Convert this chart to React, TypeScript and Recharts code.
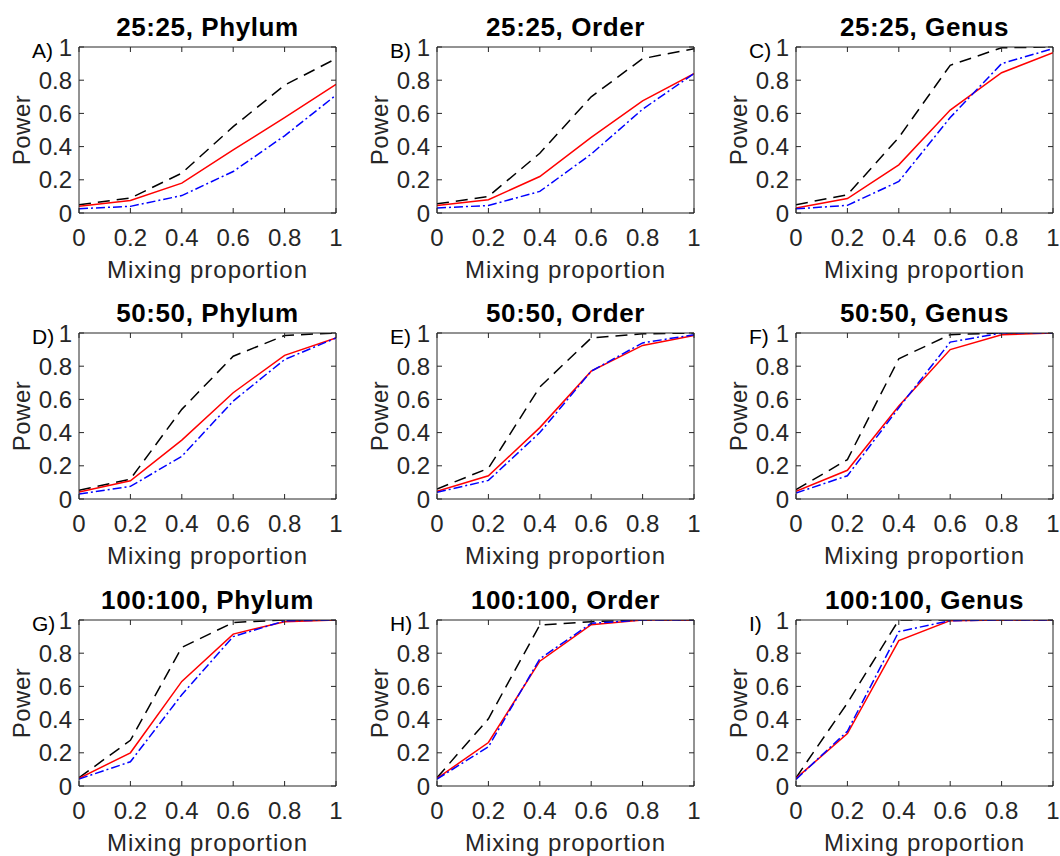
import React from 'react';
import { LineChart, Line, XAxis, YAxis } from 'recharts';

// mixing proportion on x
const mixing = [0, 0.2, 0.4, 0.6, 0.8, 1];
const xTicks = [0, 0.2, 0.4, 0.6, 0.8, 1];
const yTicks = [0, 0.2, 0.4, 0.6, 0.8, 1];

const titles = [
  '25:25, Phylum', '25:25, Order', '25:25, Genus',
  '50:50, Phylum', '50:50, Order', '50:50, Genus',
  '100:100, Phylum', '100:100, Order', '100:100, Genus',
];
const letters = ['A)', 'B)', 'C)', 'D)', 'E)', 'F)', 'G)', 'H)', 'I)'];

// black dashed / red solid / blue dash-dot, per panel
const aDashed = [0.05, 0.09, 0.24, 0.52, 0.77, 0.93];
const aSolid = [0.04, 0.075, 0.18, 0.38, 0.575, 0.775];
const aDashDot = [0.026, 0.04, 0.105, 0.25, 0.465, 0.71];

const bDashed = [0.055, 0.1, 0.36, 0.7, 0.93, 0.99];
const bSolid = [0.045, 0.08, 0.22, 0.455, 0.675, 0.84];
const bDashDot = [0.03, 0.045, 0.13, 0.355, 0.625, 0.84];

const cDashed = [0.05, 0.11, 0.455, 0.89, 0.995, 1];
const cSolid = [0.03, 0.087, 0.29, 0.62, 0.845, 0.965];
const cDashDot = [0.025, 0.046, 0.19, 0.575, 0.9, 0.99];

const dDashed = [0.052, 0.12, 0.54, 0.86, 0.985, 1];
const dSolid = [0.042, 0.11, 0.355, 0.64, 0.865, 0.97];
const dDashDot = [0.03, 0.076, 0.257, 0.59, 0.84, 0.97];

const eDashed = [0.06, 0.185, 0.675, 0.97, 0.995, 1];
const eSolid = [0.046, 0.14, 0.43, 0.77, 0.925, 0.985];
const eDashDot = [0.04, 0.112, 0.4, 0.77, 0.94, 0.99];

const fDashed = [0.056, 0.237, 0.845, 0.99, 1, 1];
const fSolid = [0.046, 0.173, 0.56, 0.9, 0.99, 1];
const fDashDot = [0.036, 0.14, 0.55, 0.945, 1, 1];

const gDashed = [0.05, 0.275, 0.835, 0.985, 1, 1];
const gSolid = [0.046, 0.2, 0.63, 0.915, 0.99, 1];
const gDashDot = [0.042, 0.146, 0.55, 0.9, 0.995, 1];

const hDashed = [0.05, 0.405, 0.97, 0.99, 1, 1];
const hSolid = [0.046, 0.262, 0.752, 0.972, 1, 1];
const hDashDot = [0.042, 0.236, 0.766, 0.98, 1, 1];

const iDashed = [0.05, 0.5, 1, 1, 1, 1];
const iSolid = [0.046, 0.316, 0.876, 0.996, 1, 1];
const iDashDot = [0.04, 0.33, 0.93, 0.996, 1, 1];

const dashedSets = [aDashed, bDashed, cDashed, dDashed, eDashed, fDashed, gDashed, hDashed, iDashed];
const solidSets = [aSolid, bSolid, cSolid, dSolid, eSolid, fSolid, gSolid, hSolid, iSolid];
const dashDotSets = [aDashDot, bDashDot, cDashDot, dDashDot, eDashDot, fDashDot, gDashDot, hDashDot, iDashDot];

const colLeft = [79, 437, 796];
const rowTop = [47, 333, 620];
const PLOT_W = 257;
const PLOT_H = 166;
const AXIS = '#262626';
const FONT = 'Arial, "Liberation Sans", Helvetica, sans-serif';

const Panel = ({ idx }: { idx: number }) => {
  const col = idx % 3;
  const row = Math.floor(idx / 3);
  const data = mixing.map((m, i) => ({
    x: m,
    dashed: dashedSets[idx][i],
    solid: solidSets[idx][i],
    dashDot: dashDotSets[idx][i],
  }));
  const left = colLeft[col] - 79;
  const top = rowTop[row] - 47;

  return (
    <div style={{ position: 'absolute', left, top }}>
      <LineChart
        width={79 + PLOT_W + 12}
        height={47 + PLOT_H + 77}
        data={data}
        margin={{ top: 46, right: 11, bottom: 0, left: 0 }}
      >
        <XAxis
          dataKey="x"
          type="number"
          domain={[0, 1]}
          ticks={xTicks}
          allowDataOverflow
          height={77}
          tickSize={-5}
          tickMargin={21}
          tickFormatter={(v: number) => String(v)}
          stroke={AXIS}
          tick={{ fill: AXIS, fontSize: 24, fontFamily: FONT }}
          label={{
            content: (p: any) => {
              const vb = p.viewBox;
              return (
                <text x={vb.x + vb.width / 2} y={vb.y + 56} textAnchor="middle" dominantBaseline="central"
                  fill={AXIS} fontSize={24} fontFamily={FONT} letterSpacing={1}>
                  Mixing proportion
                </text>
              );
            },
          }}
        />
        <XAxis
          xAxisId="top"
          dataKey="x"
          type="number"
          orientation="top"
          domain={[0, 1]}
          ticks={xTicks}
          allowDataOverflow
          height={1}
          tickSize={-5}
          tickMargin={0}
          tickFormatter={() => ''}
          stroke={AXIS}
          label={{
            content: (p: any) => {
              const vb = p.viewBox;
              return (
                <g>
                  <text x={vb.x + vb.width / 2} y={47 - 20} textAnchor="middle" dominantBaseline="central"
                    fill="#000" fontSize={26} fontWeight="bold" fontFamily={FONT} letterSpacing={0.6}>
                    {titles[idx]}
                  </text>
                  <text x={79 - 47} y={47 + 3} textAnchor="start" dominantBaseline="central"
                    fill="#000" fontSize={21} fontFamily={FONT}>
                    {letters[idx]}
                  </text>
                </g>
              );
            },
          }}
        />
        <YAxis
          type="number"
          domain={[0, 1]}
          ticks={yTicks}
          allowDataOverflow
          width={79}
          tickSize={-5}
          tickMargin={12}
          tickFormatter={(v: number) => String(v)}
          stroke={AXIS}
          tick={{ fill: AXIS, fontSize: 24, fontFamily: FONT }}
          label={{
            content: (p: any) => {
              const vb = p.viewBox;
              const cx = vb.x + 21;
              const cy = vb.y + vb.height / 2;
              return (
                <text x={cx} y={cy} transform={`rotate(-90 ${cx} ${cy})`} textAnchor="middle" dominantBaseline="central"
                  fill={AXIS} fontSize={24} fontFamily={FONT} letterSpacing={0.5}>
                  Power
                </text>
              );
            },
          }}
        />
        <YAxis
          yAxisId="right"
          type="number"
          orientation="right"
          domain={[0, 1]}
          ticks={yTicks}
          allowDataOverflow
          width={1}
          tickSize={-5}
          tickMargin={0}
          tickFormatter={() => ''}
          stroke={AXIS}
        />
        <Line dataKey="dashed" stroke="#000" strokeWidth={1.5} strokeDasharray="12 7" dot={false} isAnimationActive={false} />
        <Line dataKey="solid" xAxisId="top" yAxisId="right" stroke="#ff0000" strokeWidth={1.5} dot={false} isAnimationActive={false} />
        <Line dataKey="dashDot" stroke="#0000ff" strokeWidth={1.5} strokeDasharray="9 3 2 3" dot={false} isAnimationActive={false} />
      </LineChart>
    </div>
  );
};

export default function App() {
  return (
    <>
      <style>{'body{margin:0}'}</style>
      <div style={{ position: 'relative', width: 1060, height: 856, overflow: 'hidden', background: '#fff' }}>
        {titles.map((t, i) => (
          <Panel key={t} idx={i} />
        ))}
      </div>
    </>
  );
}
